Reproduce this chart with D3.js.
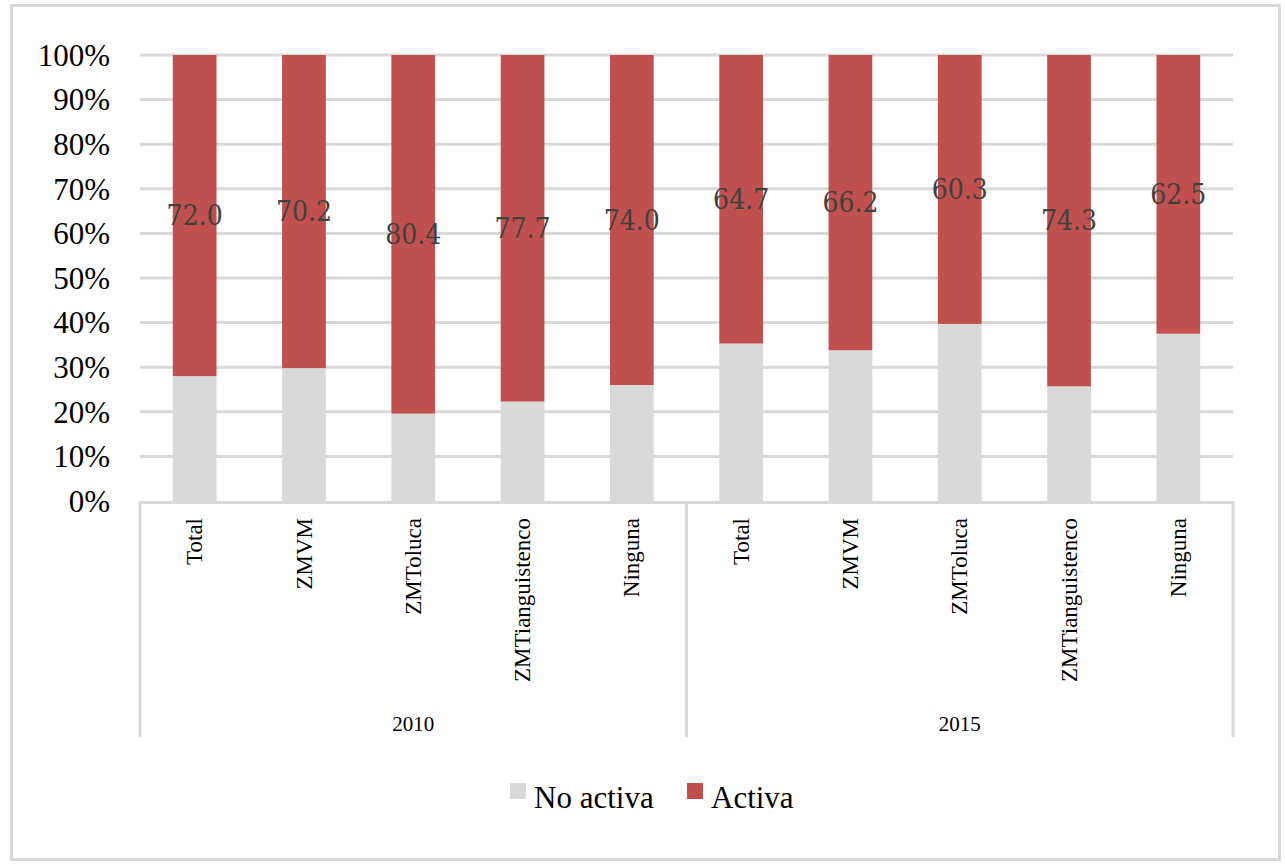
<!DOCTYPE html>
<html><head><meta charset="utf-8">
<script src="https://cdn.jsdelivr.net/npm/d3@7"></script>
<style>body{margin:0;background:#fff}svg{display:block}</style>
</head><body><svg id="c" width="1285" height="868"></svg>
<script>
const years = ["2010", "2015"];
const categories = ["Total", "ZMVM", "ZMToluca", "ZMTianguistenco", "Ninguna"];
const activa = [72.0, 70.2, 80.4, 77.7, 74.0, 64.7, 66.2, 60.3, 74.3, 62.5];
const noActiva = activa.map(v => +(100 - v).toFixed(1));
const yTicks = [0, 10, 20, 30, 40, 50, 60, 70, 80, 90, 100];
const seriesNames = ["No activa", "Activa"];
const colors = ["#d9d9d9", "#c0504d"];

(function () {
const rows = [];
years.forEach((yr, gi) => categories.forEach((c, ci) => {
  const i = gi * categories.length + ci;
  rows.push({key: yr + "|" + c, year: yr, cat: c, noActiva: noActiva[i], activa: activa[i]});
}));

const serif = "'Liberation Serif', 'Times New Roman', serif";
const svg = d3.select("#c");
const grid = "#d9d9d9";
svg.append("rect").attr("x", 11.5).attr("y", 5.5).attr("width", 1268).attr("height", 854)
  .attr("fill", "#fff").attr("stroke", grid).attr("stroke-width", 3);

const pLeft = 140, pRight = 1233, pTop = 55, pBottom = 501;
const x = d3.scaleBand().domain(rows.map(d => d.key)).range([pLeft, pRight]).paddingInner(0.6).paddingOuter(0.3);
const y = d3.scaleLinear().domain([0, 100]).range([pBottom, pTop]);

svg.append("g").selectAll("line").data(yTicks.filter(t => t > 0)).join("line")
  .attr("x1", pLeft).attr("x2", pRight).attr("y1", d => y(d)).attr("y2", d => y(d))
  .attr("stroke", grid).attr("stroke-width", 3);

const yAxis = d3.axisLeft(y).tickValues(yTicks).tickFormat(d => d + "%").tickSize(0).tickPadding(0);
const ya = svg.append("g").attr("transform", `translate(${pLeft - 30},0)`).call(yAxis);
ya.select(".domain").remove();
ya.selectAll("text").attr("font-family", serif).attr("font-size", 31).attr("fill", "#000").attr("dy", "0.33em");

const stack = d3.stack().keys(["noActiva", "activa"]);
const stacked = stack(rows);
svg.append("g").selectAll("g").data(stacked).join("g").attr("fill", (d, i) => colors[i])
  .selectAll("rect").data(d => d).join("rect")
  .attr("x", d => x(d.data.key)).attr("width", x.bandwidth())
  .attr("y", d => y(d[1])).attr("height", d => y(d[0]) - y(d[1]));

svg.append("g").selectAll("text").data(stacked[1]).join("text")
  .attr("x", d => x(d.data.key) + x.bandwidth() / 2)
  .attr("y", d => y((d[0] + d[1]) / 2))
  .attr("text-anchor", "middle").attr("dy", "0.35em")
  .attr("font-family", "'DejaVu Serif Condensed', 'DejaVu Serif'").attr("font-stretch", "condensed")
  .attr("font-size", 28).attr("fill", "#404040")
  .text(d => d.data.activa.toFixed(1));

const axisBottom = 737;
svg.append("line").attr("x1", pLeft).attr("x2", pRight).attr("y1", pBottom + 1.5).attr("y2", pBottom + 1.5)
  .attr("stroke", grid).attr("stroke-width", 3);
const groupW = (pRight - pLeft) / years.length;
const seps = d3.range(years.length + 1).map(i => pLeft + i * groupW);
svg.append("g").selectAll("line").data(seps).join("line")
  .attr("x1", d => d).attr("x2", d => d).attr("y1", pBottom).attr("y2", axisBottom)
  .attr("stroke", grid).attr("stroke-width", 3);

const xa = d3.axisBottom(x).tickSize(0).tickFormat(k => k.split("|")[1]);
const xg = svg.append("g").attr("transform", `translate(0,${pBottom})`).call(xa);
xg.select(".domain").remove();
xg.selectAll("text").attr("font-family", serif).attr("font-size", 23).attr("fill", "#000")
  .attr("text-anchor", "end").attr("transform", "rotate(-90)")
  .attr("x", -17).attr("y", 0).attr("dy", "0.33em");

svg.append("g").selectAll("text").data(years).join("text")
  .attr("x", (d, i) => pLeft + groupW * (i + 0.5)).attr("y", 731)
  .attr("text-anchor", "middle").attr("font-family", serif).attr("font-size", 21).attr("fill", "#000")
  .text(d => d);

const legend = svg.append("g");
const legItems = [{name: seriesNames[0], c: colors[0], x: 510}, {name: seriesNames[1], c: colors[1], x: 687}];
legItems.forEach(it => {
  legend.append("rect").attr("x", it.x).attr("y", 783).attr("width", 16).attr("height", 16).attr("fill", it.c);
  legend.append("text").attr("x", it.x + 24).attr("y", 808).attr("font-family", serif)
    .attr("font-size", 31).attr("fill", "#000").text(it.name);
});
})();
</script></body></html>
